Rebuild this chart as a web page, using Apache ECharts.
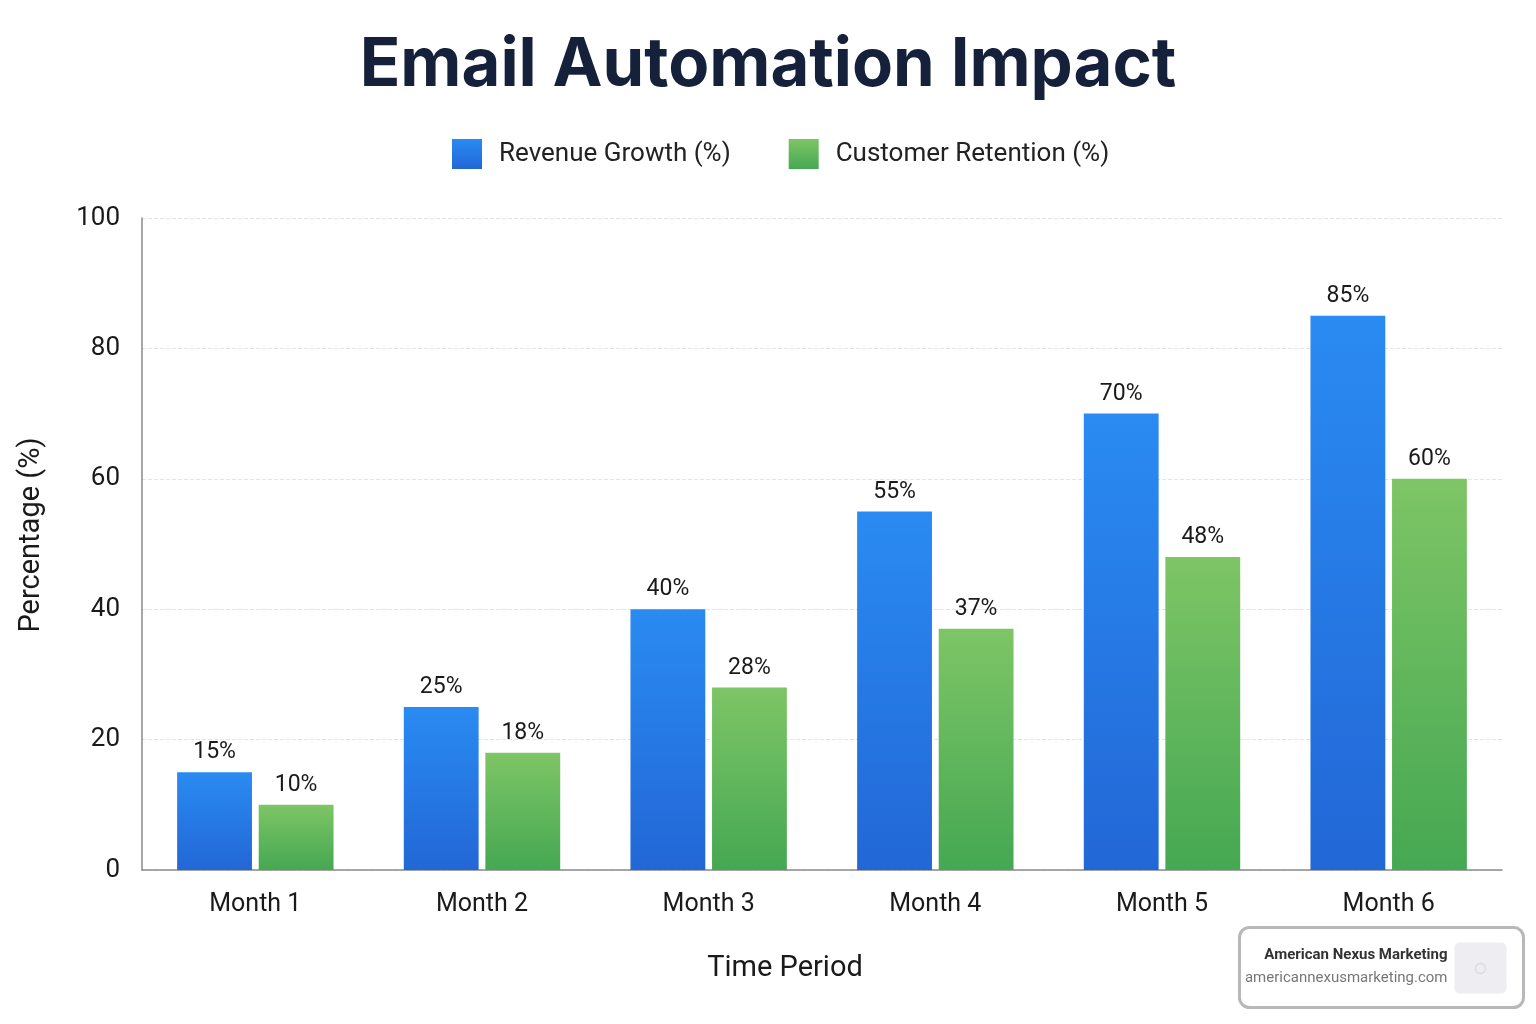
<!DOCTYPE html>
<html>
<head>
<meta charset="utf-8">
<script src="https://cdn.jsdelivr.net/npm/echarts@6/dist/echarts.min.js"></script>
<style>
  html, body { margin: 0; padding: 0; background: #fff; }
  #chart { width: 1536px; height: 1024px; }
</style>
</head>
<body>
<div id="chart"></div>
<script>
var months = ['Month 1', 'Month 2', 'Month 3', 'Month 4', 'Month 5', 'Month 6'];
var revenueGrowth = [15, 25, 40, 55, 70, 85];
var customerRetention = [10, 18, 28, 37, 48, 60];

var chart = echarts.init(document.getElementById('chart'), null, { renderer: 'canvas' });

function grad(top, bottom) {
  return new echarts.graphic.LinearGradient(0, 0, 0, 1, [
    { offset: 0, color: top },
    { offset: 1, color: bottom }
  ]);
}

var font = 'Roboto, "Open Sans", sans-serif';

chart.setOption({
  animation: false,
  backgroundColor: '#ffffff',
  title: {
    text: 'Email Automation Impact',
    left: 'center',
    top: 27,
    textStyle: { fontFamily: 'Inter, sans-serif', fontSize: 67, fontWeight: 'bold', color: '#15213a' }
  },
  legend: {
    top: 134,
    left: 447,
    itemWidth: 30,
    itemHeight: 30,
    itemGap: 58,
    icon: 'rect',
    textStyle: { fontFamily: font, fontSize: 26, color: '#222', padding: [0, 0, 0, 12] },
    data: ['Revenue Growth (%)', 'Customer Retention (%)']
  },
  grid: { left: 142, right: 34, top: 218, bottom: 154 },
  xAxis: {
    type: 'category',
    data: months,
    name: 'Time Period',
    nameLocation: 'middle',
    nameGap: 84,
    nameTextStyle: { fontFamily: font, fontSize: 29, color: '#1a1a1a', padding: [0, 74, 0, 0] },
    axisLine: { lineStyle: { color: '#8a8a8a', width: 1.5 } },
    axisTick: { show: false },
    axisLabel: { fontFamily: font, fontSize: 25, color: '#1a1a1a', margin: 22 }
  },
  yAxis: {
    type: 'value',
    min: 0,
    max: 100,
    interval: 20,
    name: 'Percentage (%)',
    nameLocation: 'middle',
    nameGap: 96,
    nameTextStyle: { fontFamily: font, fontSize: 29, color: '#1a1a1a', padding: [0, 0, 0, 18] },
    axisLine: { show: true, lineStyle: { color: '#8a8a8a', width: 1.5 } },
    axisTick: { show: false },
    axisLabel: { fontFamily: font, fontSize: 26, color: '#1a1a1a', margin: 22 },
    splitLine: { lineStyle: { color: '#e4e4e4', type: 'dashed' } }
  },
  series: [
    {
      name: 'Revenue Growth (%)',
      type: 'bar',
      data: revenueGrowth,
      barGap: '9%',
      barCategoryGap: '31%',
      itemStyle: { color: grad('#2a8bf2', '#2267d6') },
      label: {
        show: true, position: 'top', distance: 8, formatter: '{c}%',
        fontFamily: font, fontSize: 23, color: '#1a1a1a'
      }
    },
    {
      name: 'Customer Retention (%)',
      type: 'bar',
      data: customerRetention,
      itemStyle: { color: grad('#7ec566', '#45a852') },
      label: {
        show: true, position: 'top', distance: 8, formatter: '{c}%',
        fontFamily: font, fontSize: 23, color: '#1a1a1a'
      }
    }
  ],
  graphic: [
    {
      type: 'group',
      left: 1238,
      top: 926,
      children: [
        {
          type: 'rect',
          shape: { x: 0, y: 0, width: 284, height: 80, r: 10 },
          style: { fill: '#ffffff', stroke: '#b8b8b8', lineWidth: 3 }
        },
        {
          type: 'text',
          x: 208, y: 20,
          style: { text: 'American Nexus Marketing', align: 'right', font: 'bold 15px Roboto, sans-serif', fill: '#333' }
        },
        {
          type: 'text',
          x: 208, y: 43,
          style: { text: 'americannexusmarketing.com', align: 'right', font: '15px Roboto, sans-serif', fill: '#777' }
        },
        {
          type: 'rect',
          shape: { x: 215, y: 15, width: 52, height: 51, r: 5 },
          style: { fill: '#ededf2' }
        },
        {
          type: 'circle',
          shape: { cx: 241, cy: 41, r: 5 },
          style: { fill: 'none', stroke: '#dcdce2', lineWidth: 1.5 }
        }
      ]
    }
  ]
});

window.addEventListener('resize', function() { chart.resize(); });
</script>
</body>
</html>
